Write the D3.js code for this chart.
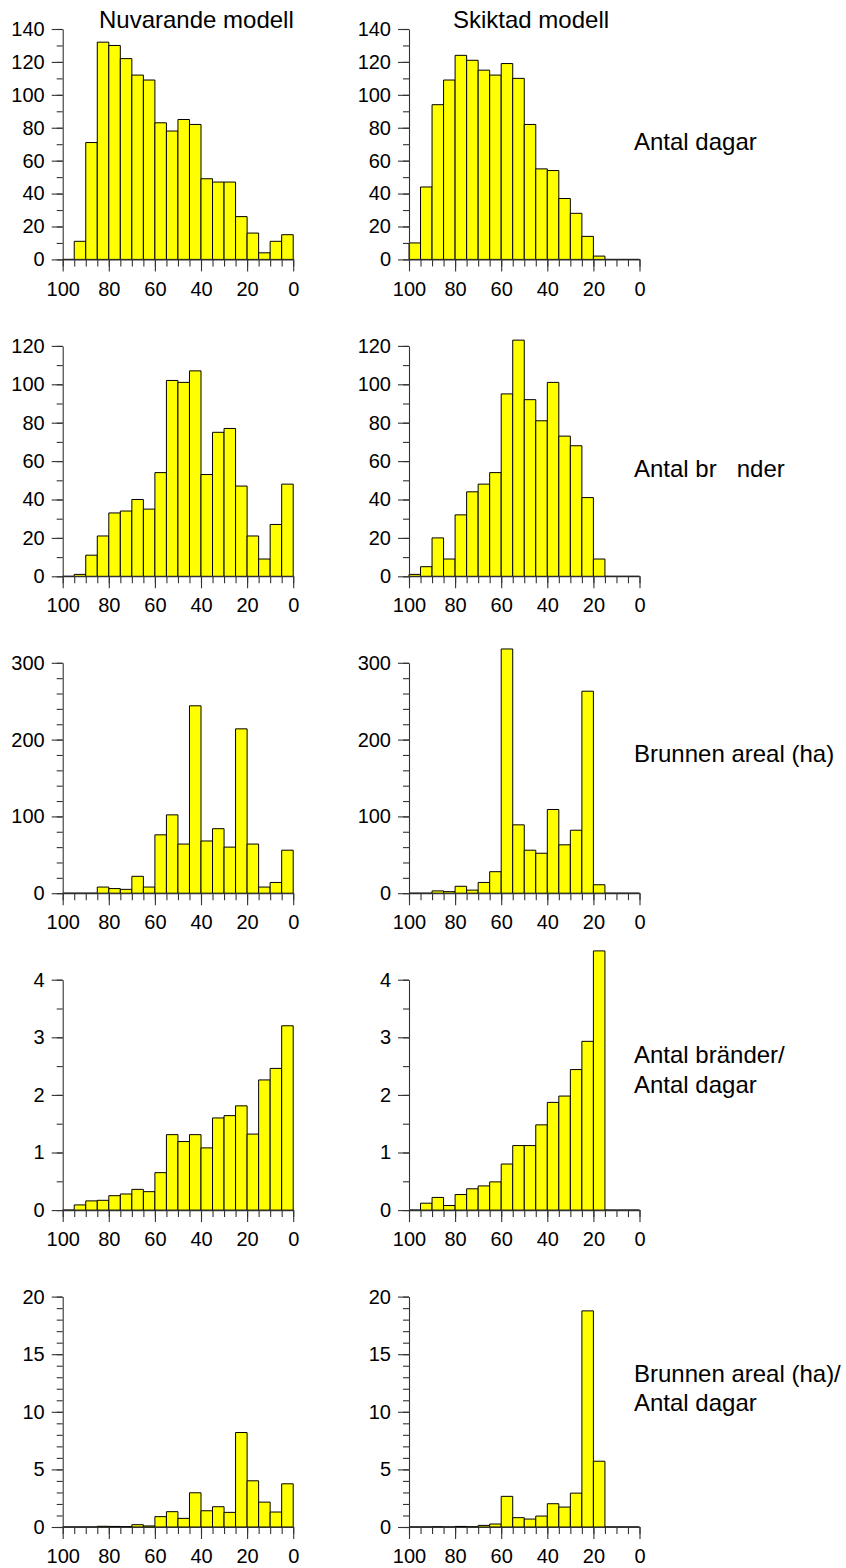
<!DOCTYPE html>
<html>
<head>
<meta charset="utf-8">
<script src="https://cdn.jsdelivr.net/npm/d3@7"></script>
<style>
  html, body { margin: 0; padding: 0; background: #fff; }
  svg { display: block; font-family: "Liberation Sans", Arial, sans-serif; }
  text { white-space: pre; }
</style>
</head>
<body>
<svg id="chart" width="846" height="1568"></svg>
<script>
// Bin edges (percent), from 100 down to 0 in steps of 5
const binEdges = [100, 95, 90, 85, 80, 75, 70, 65, 60, 55, 50, 45, 40, 35, 30, 25, 20, 15, 10, 5, 0];

// Column headings and row labels
const columnTitles = ["Nuvarande modell", "Skiktad modell"];
const rowLabels = [
  ["Antal dagar"],
  ["Antal br   nder"],
  ["Brunnen areal (ha)"],
  ["Antal bränder/", "Antal dagar"],
  ["Brunnen areal (ha)/", "Antal dagar"]
];

// Counts per bin: Nuvarande modell / Skiktad modell
const dagarNuv     = [0, 11, 71, 132, 130, 122, 112, 109, 83, 78, 85, 82, 49, 47, 47, 26, 16, 4, 11, 15];
const dagarSkikt   = [10, 44, 94, 109, 124, 121, 115, 112, 119, 110, 82, 55, 54, 37, 28, 14, 2, 0, 0, 0];
const branderNuv   = [0, 1, 11, 21, 33, 34, 40, 35, 54, 102, 101, 107, 53, 75, 77, 47, 21, 9, 27, 48];
const branderSkikt = [1, 5, 20, 9, 32, 44, 48, 54, 95, 123, 92, 81, 101, 73, 68, 41, 9, 0, 0, 0];
const arealNuv     = [0, 0, 0, 8, 6, 5, 22, 8, 76, 102, 64, 244, 68, 84, 60, 214, 64, 8, 14, 56];
const arealSkikt   = [0, 0, 3, 2, 9, 4, 14, 28, 318, 89, 56, 52, 109, 63, 82, 263, 11, 0, 0, 0];
const brPerDagNuv   = [0, 0.09, 0.16, 0.17, 0.25, 0.28, 0.36, 0.32, 0.65, 1.31, 1.19, 1.31, 1.08, 1.60, 1.64, 1.81, 1.32, 2.26, 2.46, 3.20];
const brPerDagSkikt = [0, 0.12, 0.22, 0.08, 0.27, 0.37, 0.42, 0.49, 0.80, 1.12, 1.12, 1.48, 1.87, 1.98, 2.44, 2.93, 4.50, 0, 0, 0];
const haPerDagNuv   = [0, 0, 0, 0.06, 0.05, 0.03, 0.20, 0.09, 0.90, 1.33, 0.75, 2.97, 1.41, 1.76, 1.27, 8.20, 4.01, 2.16, 1.30, 3.75];
const haPerDagSkikt = [0, 0, 0.02, 0, 0.05, 0.02, 0.14, 0.26, 2.66, 0.81, 0.69, 0.95, 2.02, 1.73, 2.94, 18.76, 5.71, 0, 0, 0];

// Y-axis tick values per row (major labelled, minor unlabelled)
const yMax      = [140, 120, 300, 4, 20];
const yMajor    = [
  [0, 20, 40, 60, 80, 100, 120, 140],
  [0, 20, 40, 60, 80, 100, 120],
  [0, 100, 200, 300],
  [0, 1, 2, 3, 4],
  [0, 5, 10, 15, 20]
];
const yMinorStep = [10, 10, 20, 0.5, 1];
const xMajor = [100, 80, 60, 40, 20, 0];

const rows = [
  [dagarNuv, dagarSkikt],
  [branderNuv, branderSkikt],
  [arealNuv, arealSkikt],
  [brPerDagNuv, brPerDagSkikt],
  [haPerDagNuv, haPerDagSkikt]
];

// Layout
const colX = [62.7, 409];
const plotW = 230.5;
const plotH = 230.4;
const firstTop = 29;
const rowStep = 316.9;
const labelX = 634;
const tickFont = 20;
const labelFont = 24;

const svg = d3.select("#chart");

const x = d3.scaleLinear().domain([100, 0]).range([0, plotW]);

rows.forEach((pair, r) => {
  const top = firstTop + r * rowStep;
  const y = d3.scaleLinear().domain([0, yMax[r]]).range([plotH, 0]);
  const minorVals = d3.range(0, yMax[r] + 1e-9, yMinorStep[r]);

  pair.forEach((values, c) => {
    const g = svg.append("g").attr("transform", `translate(${colX[c]},${top})`);

    // bars (drawn as closed paths so empty bins still show an outline on the baseline)
    g.selectAll("path.bar")
      .data(values)
      .join("path")
      .attr("class", "bar")
      .attr("d", (v, i) => {
        const p = d3.path();
        const x0 = x(binEdges[i]), x1 = x(binEdges[i + 1]);
        p.moveTo(x0, y(0));
        p.lineTo(x0, y(v));
        p.lineTo(x1, y(v));
        p.lineTo(x1, y(0));
        p.closePath();
        return p.toString();
      })
      .attr("fill", "#ffff00")
      .attr("stroke", "#000")
      .attr("stroke-width", 1);

    // x axis: minor ticks at every bin edge, labelled major ticks every 20
    const xMinorAxis = g.append("g")
      .attr("transform", `translate(0,${plotH})`)
      .call(d3.axisBottom(x).tickValues(binEdges).tickSize(7).tickSizeOuter(0).tickFormat(""));
    xMinorAxis.select(".domain").remove();

    g.append("g")
      .attr("transform", `translate(0,${plotH})`)
      .call(d3.axisBottom(x).tickValues(xMajor).tickSize(12).tickSizeOuter(0).tickPadding(10).tickFormat(d3.format("d")));

    // y axis
    const yMinorAxis = g.append("g")
      .call(d3.axisLeft(y).tickValues(minorVals).tickSize(6).tickSizeOuter(0).tickFormat(""));
    yMinorAxis.select(".domain").remove();

    g.append("g")
      .call(d3.axisLeft(y).tickValues(yMajor[r]).tickSize(11).tickSizeOuter(0).tickPadding(7).tickFormat(d3.format("d")));
  });

  // row label at the right
  const lab = svg.append("text")
    .attr("x", labelX)
    .attr("font-size", labelFont)
    .attr("fill", "#000");
  const lines = rowLabels[r];
  const baseY = [150, 476.7, 762, 1063.3, 1382][r];
  lines.forEach((t, k) => {
    lab.append("tspan").attr("x", labelX).attr("y", baseY + k * 29.4).text(t);
  });
});

// column headings
svg.append("text").attr("x", 99).attr("y", 28).attr("font-size", labelFont).text(columnTitles[0]);
svg.append("text").attr("x", 453).attr("y", 28).attr("font-size", labelFont).text(columnTitles[1]);

// axis styling
svg.selectAll(".tick text")
  .attr("font-size", tickFont)
  .attr("font-family", "Liberation Sans, Arial, sans-serif")
  .attr("fill", "#000");
svg.selectAll(".domain, .tick line")
  .attr("stroke", "#333")
  .attr("stroke-width", 1.1);
</script>
</body>
</html>
